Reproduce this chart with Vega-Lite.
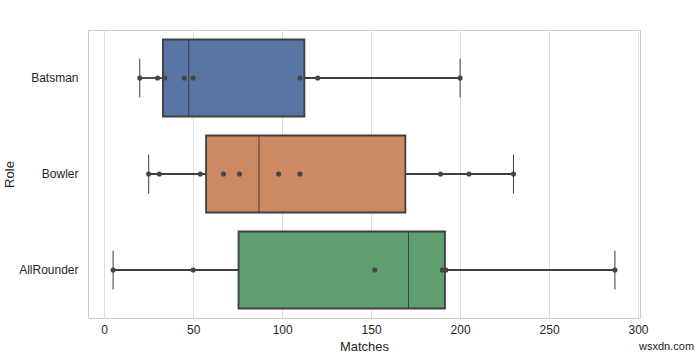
{
  "$schema": "https://vega.github.io/schema/vega-lite/v6.json",
  "width": 552,
  "height": 288,
  "autosize": "none",
  "padding": {"left": 88, "top": 30, "right": 60, "bottom": 40},
  "background": "white",
  "config": {
    "view": {"stroke": "#cccccc", "strokeWidth": 1},
    "font": "Liberation Sans"
  },
  "title": {
    "text": "wsxdn.com",
    "orient": "bottom",
    "anchor": "end",
    "fontSize": 11,
    "fontWeight": "normal",
    "color": "#222222",
    "dx": 46,
    "offset": -12
  },
  "data": {
    "values": [
      {"Role": "Batsman", "Matches": 20},
      {"Role": "Batsman", "Matches": 30},
      {"Role": "Batsman", "Matches": 34},
      {"Role": "Batsman", "Matches": 45},
      {"Role": "Batsman", "Matches": 50},
      {"Role": "Batsman", "Matches": 110},
      {"Role": "Batsman", "Matches": 120},
      {"Role": "Batsman", "Matches": 200},
      {"Role": "Bowler", "Matches": 25},
      {"Role": "Bowler", "Matches": 31},
      {"Role": "Bowler", "Matches": 54},
      {"Role": "Bowler", "Matches": 67},
      {"Role": "Bowler", "Matches": 76},
      {"Role": "Bowler", "Matches": 98},
      {"Role": "Bowler", "Matches": 110},
      {"Role": "Bowler", "Matches": 189},
      {"Role": "Bowler", "Matches": 205},
      {"Role": "Bowler", "Matches": 230},
      {"Role": "AllRounder", "Matches": 5},
      {"Role": "AllRounder", "Matches": 50},
      {"Role": "AllRounder", "Matches": 152},
      {"Role": "AllRounder", "Matches": 190},
      {"Role": "AllRounder", "Matches": 192},
      {"Role": "AllRounder", "Matches": 287}
    ]
  },
  "encoding": {
    "y": {
      "field": "Role",
      "type": "nominal",
      "sort": ["Batsman", "Bowler", "AllRounder"],
      "scale": {"paddingInner": 0, "paddingOuter": 0},
      "axis": {
        "title": "Role",
        "titleFontSize": 13,
        "titleFontWeight": "normal",
        "titleColor": "#262626",
        "titlePadding": 2,
        "labelFontSize": 12,
        "labelColor": "#262626",
        "labelPadding": 10,
        "ticks": false,
        "domain": false,
        "grid": false
      }
    },
    "x": {
      "field": "Matches",
      "type": "quantitative",
      "scale": {"domain": [-9.1, 301.1], "nice": false, "zero": false},
      "axis": {
        "title": "Matches",
        "titleFontSize": 13,
        "titleFontWeight": "normal",
        "titleColor": "#262626",
        "titlePadding": 5,
        "labelFontSize": 12,
        "labelColor": "#262626",
        "labelPadding": 6,
        "values": [0, 50, 100, 150, 200, 250, 300],
        "ticks": false,
        "domain": false,
        "grid": true,
        "gridColor": "#dddddd",
        "gridWidth": 1
      }
    }
  },
  "layer": [
    {
      "mark": {
        "type": "boxplot",
        "extent": 1.5,
        "size": 77,
        "box": {"stroke": "#3f3f3f", "strokeWidth": 1.8, "opacity": 1},
        "median": {"color": "#3f3f3f", "strokeWidth": 1.8, "opacity": 1},
        "rule": {"color": "#3f3f3f", "strokeWidth": 1.8},
        "ticks": {"color": "#3f3f3f", "size": 39, "strokeWidth": 1.8, "opacity": 1},
        "outliers": false
      },
      "encoding": {
        "color": {
          "field": "Role",
          "type": "nominal",
          "scale": {
            "domain": ["Batsman", "Bowler", "AllRounder"],
            "range": ["#5975a4", "#cc8963", "#5f9e6e"]
          },
          "legend": null
        }
      }
    },
    {
      "mark": {"type": "circle", "color": "#444444", "opacity": 1, "size": 26},
      "encoding": {}
    }
  ]
}
